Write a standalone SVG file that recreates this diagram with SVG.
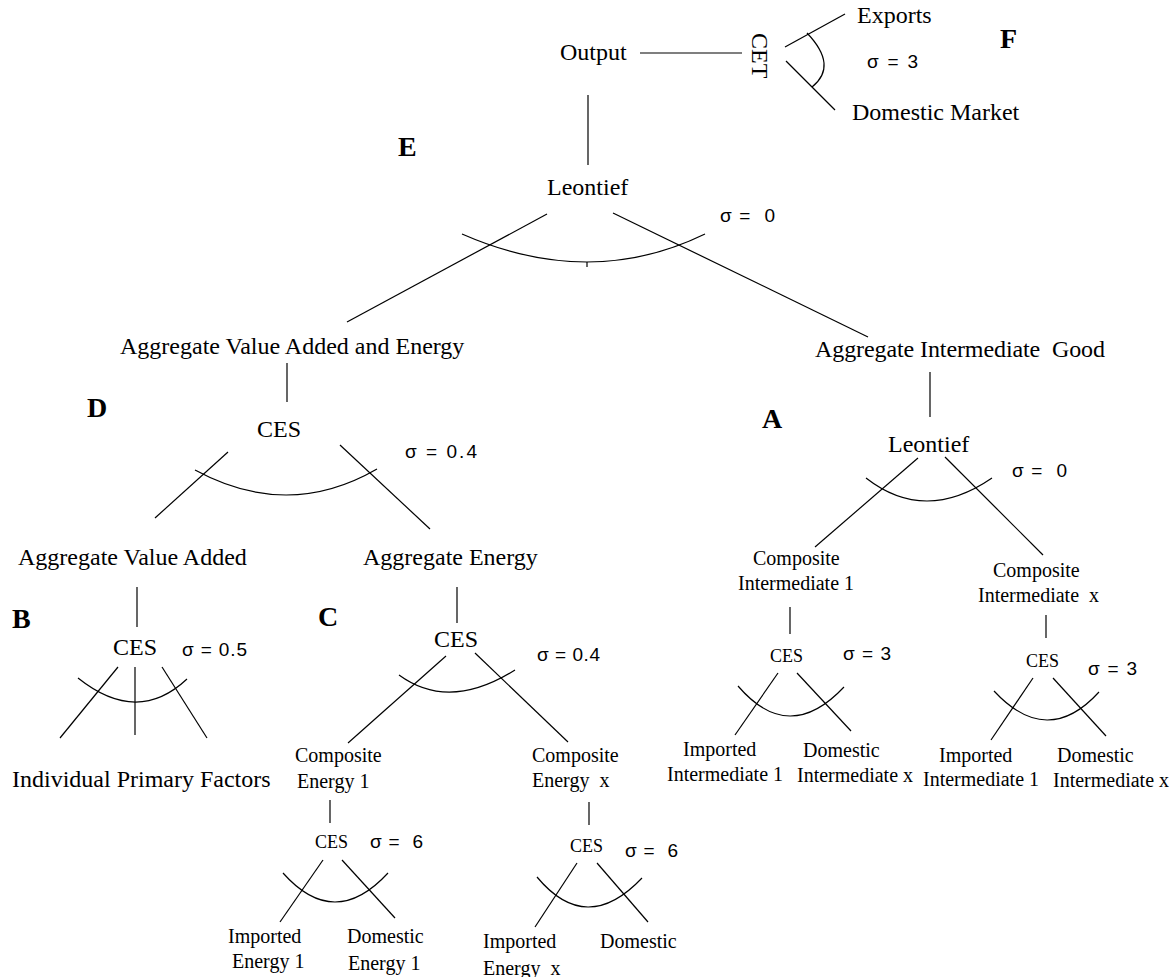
<svg xmlns="http://www.w3.org/2000/svg" width="1176" height="977" viewBox="0 0 1176 977">
<style>
.t{font-family:"Liberation Serif","Times New Roman",serif;font-size:24px;fill:#000}
.s{font-family:"Liberation Serif","Times New Roman",serif;font-size:20px;fill:#000}
.c{font-family:"Liberation Serif","Times New Roman",serif;font-size:18px;fill:#000}
.g{font-family:"Liberation Sans",Arial,sans-serif;font-size:19px;fill:#000}
.b{font-family:"Liberation Serif","Times New Roman",serif;font-size:28px;font-weight:bold;fill:#000}
.ln{stroke:#000;stroke-width:1.2;fill:none}
</style>
<rect width="1176" height="977" fill="#fff"/>
<g id="connectors" class="ln">
<line x1="640" y1="53" x2="742" y2="53"/>
<line x1="785" y1="47" x2="845" y2="14"/>
<line x1="786" y1="61" x2="835" y2="110"/>
<path d="M807,33 Q838.5,66 812,87"/>
<line x1="588" y1="95" x2="588" y2="165"/>
<line x1="547" y1="214" x2="347" y2="322"/>
<line x1="613" y1="213" x2="868" y2="337"/>
<path d="M462,234 Q590,290 705,234"/>
<line x1="587" y1="262" x2="587" y2="267"/>
<line x1="287" y1="363" x2="287" y2="402"/>
<line x1="228" y1="452" x2="155" y2="518"/>
<line x1="340" y1="445" x2="430" y2="529"/>
<path d="M195,470 Q288,520.5 377,469"/>
<line x1="930" y1="372" x2="930" y2="417"/>
<line x1="918" y1="458" x2="815" y2="547"/>
<line x1="945" y1="457" x2="1043" y2="555"/>
<path d="M866,478 Q925,524 992,478"/>
<line x1="790" y1="607" x2="790" y2="634"/>
<line x1="1046" y1="615" x2="1046" y2="638"/>
<line x1="778" y1="673" x2="735" y2="735"/>
<line x1="797" y1="673" x2="851" y2="731"/>
<path d="M738,686 Q789,745.5 844,687"/>
<line x1="1033" y1="678" x2="991" y2="740"/>
<line x1="1053" y1="678" x2="1106" y2="736"/>
<path d="M994,691 Q1047.5,748.5 1099,692"/>
<line x1="137" y1="587" x2="137" y2="627"/>
<line x1="118" y1="667" x2="60" y2="738"/>
<line x1="135" y1="667" x2="135" y2="735"/>
<line x1="162" y1="667" x2="207" y2="738"/>
<path d="M78,678 Q137.5,725.5 187,679"/>
<line x1="457" y1="587" x2="457" y2="623"/>
<line x1="446" y1="656" x2="348" y2="743"/>
<line x1="475" y1="653" x2="568" y2="742"/>
<path d="M399,675 Q449,711.5 515,670"/>
<line x1="330" y1="800" x2="330" y2="823"/>
<line x1="589" y1="802" x2="589" y2="825"/>
<line x1="323" y1="860" x2="280" y2="922"/>
<line x1="342" y1="860" x2="395" y2="918"/>
<path d="M283,873 Q334.5,931 388,873"/>
<line x1="577" y1="863" x2="535" y2="927"/>
<line x1="597" y1="863" x2="648" y2="922"/>
<path d="M537,877 Q586.5,936.5 642,878"/>
</g>
<g id="labels">
<text class="b" x="1000" y="48">F</text>
<text class="b" x="398" y="156">E</text>
<text class="b" x="87" y="417">D</text>
<text class="b" x="762" y="428">A</text>
<text class="b" x="12" y="628">B</text>
<text class="b" x="318" y="626">C</text>
</g>
<g id="output"><text class="t" x="560" y="60">Output</text></g>
<g id="cet"><text class="t" transform="translate(752,33) rotate(90)">CET</text>
<text class="g" x="867" y="68" textLength="51" lengthAdjust="spacing">σ = 3</text></g>
<g id="exports"><text class="t" x="857" y="23">Exports</text></g>
<g id="domestic-market"><text class="t" x="852" y="120">Domestic Market</text></g>
<g id="leontief-top"><text class="t" x="547" y="195">Leontief</text>
<text class="g" x="720" y="222" textLength="55" lengthAdjust="spacing" xml:space="preserve">σ =  0</text></g>
<g id="agg-va-energy"><text class="t" x="120" y="354">Aggregate Value Added and Energy</text></g>
<g id="agg-intermediate"><text class="t" x="815" y="357" textLength="290" xml:space="preserve">Aggregate Intermediate  Good</text></g>
<g id="ces-d"><text class="t" x="257" y="437">CES</text>
<text class="g" x="405" y="458" textLength="72" lengthAdjust="spacing">σ = 0.4</text></g>
<g id="leontief-a"><text class="t" x="888" y="452">Leontief</text>
<text class="g" x="1012" y="477" textLength="55" lengthAdjust="spacing" xml:space="preserve">σ =  0</text></g>
<g id="agg-va"><text class="t" x="18" y="565">Aggregate Value Added</text></g>
<g id="agg-energy"><text class="t" x="363" y="565">Aggregate Energy</text></g>
<g id="ces-b"><text class="t" x="113" y="655">CES</text>
<text class="g" x="182" y="656" textLength="65" lengthAdjust="spacing">σ = 0.5</text></g>
<g id="primary-factors"><text class="t" x="12" y="787">Individual Primary Factors</text></g>
<g id="ces-c"><text class="t" x="434" y="647">CES</text>
<text class="g" x="537" y="661" textLength="63" lengthAdjust="spacing">σ = 0.4</text></g>
<g id="comp-energy-1"><text class="s" x="295" y="762">Composite</text><text class="s" x="297" y="788">Energy 1</text></g>
<g id="comp-energy-x"><text class="s" x="532" y="762">Composite</text><text class="s" x="532" y="787" xml:space="preserve">Energy  x</text></g>
<g id="ces-e1"><text class="c" x="315" y="848">CES</text>
<text class="g" x="370" y="848" textLength="53" lengthAdjust="spacing" xml:space="preserve">σ =  6</text></g>
<g id="ces-ex"><text class="c" x="570" y="852">CES</text>
<text class="g" x="625" y="857" textLength="53" lengthAdjust="spacing" xml:space="preserve">σ =  6</text></g>
<g id="imp-energy-1"><text class="s" x="228" y="943">Imported</text><text class="s" x="232" y="968">Energy 1</text></g>
<g id="dom-energy-1"><text class="s" x="347" y="943">Domestic</text><text class="s" x="348" y="970">Energy 1</text></g>
<g id="imp-energy-x"><text class="s" x="483" y="948">Imported</text><text class="s" x="483" y="975" xml:space="preserve">Energy  x</text></g>
<g id="dom-energy-x"><text class="s" x="600" y="948">Domestic</text></g>
<g id="comp-int-1"><text class="s" x="753" y="565">Composite</text><text class="s" x="738" y="590">Intermediate 1</text></g>
<g id="comp-int-x"><text class="s" x="993" y="577">Composite</text><text class="s" x="978" y="602" xml:space="preserve">Intermediate  x</text></g>
<g id="ces-i1"><text class="c" x="770" y="662">CES</text>
<text class="g" x="843" y="660" textLength="48" lengthAdjust="spacing">σ = 3</text></g>
<g id="ces-ix"><text class="c" x="1026" y="667">CES</text>
<text class="g" x="1088" y="675" textLength="49" lengthAdjust="spacing">σ = 3</text></g>
<g id="imp-int-1a"><text class="s" x="683" y="756">Imported</text><text class="s" x="667" y="781">Intermediate 1</text></g>
<g id="dom-int-xa"><text class="s" x="803" y="757">Domestic</text><text class="s" x="797" y="782">Intermediate x</text></g>
<g id="imp-int-1b"><text class="s" x="939" y="762">Imported</text><text class="s" x="923" y="786">Intermediate 1</text></g>
<g id="dom-int-xb"><text class="s" x="1057" y="762">Domestic</text><text class="s" x="1053" y="787">Intermediate x</text></g>
</svg>
